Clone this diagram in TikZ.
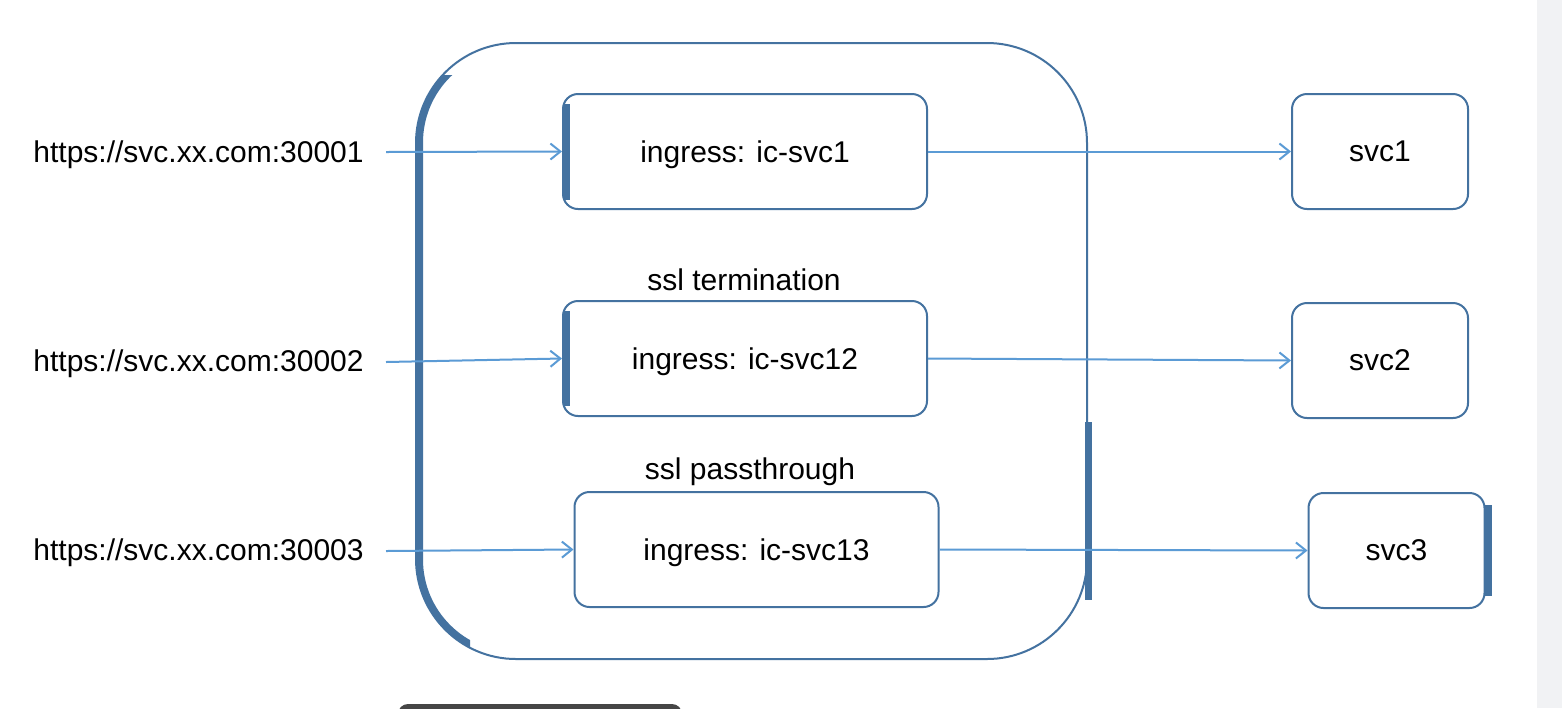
\documentclass[tikz,border=0pt]{standalone}
\usepackage{fontspec}
\setmainfont{Liberation Sans}
\usetikzlibrary{arrows.meta}
\definecolor{edge}{RGB}{68,114,160}
\definecolor{arrowc}{RGB}{91,155,213}
\definecolor{strip}{RGB}{241,242,244}
\definecolor{darkbar}{RGB}{70,70,70}
\tikzset{
  box/.style={draw=edge, line width=1pt, rounded corners=7.5pt, fill=white,
    inner sep=0pt, text depth=0pt, font=\fontsize{15}{18}\selectfont},
  ibox/.style={box, minimum width=182pt, minimum height=57.5pt},
  sbox/.style={box, minimum width=88pt, minimum height=57.5pt},
  lbl/.style={inner sep=0pt, font=\fontsize{15}{18}\selectfont},
  arr/.style={draw=arrowc, line width=1pt, -{Straight Barb[length=5pt,width=8pt,line width=1pt]}},
  thickedge/.style={draw=edge, line width=3.5pt},
}
\begin{document}
\begin{tikzpicture}[x=0.5pt,y=-0.5pt]
\useasboundingbox (0,0) rectangle (1562,708);
\fill[white] (0,0) rectangle (1562,708);
\fill[strip] (1537,0) rectangle (1562,708);
\begin{scope}
  \clip (0,0) rectangle (1562,708);
  \fill[darkbar, rounded corners=5pt] (398,704) rectangle (682,730);
\end{scope}
% container
\node[draw=edge, line width=1pt, rounded corners=50pt, minimum width=335.5pt, minimum height=308pt, inner sep=0pt] (ctr) at (751.5,351) {};
\begin{scope}
  \clip (400,75) rectangle (470,655);
  \draw[thickedge, rounded corners=48pt] (419.5,46.5) rectangle (1083.5,655.5);
\end{scope}
\draw[thickedge] (1088.5,422) -- (1088.5,600);
% URLs
\node[lbl, anchor=west] (u1) at (33,155) {https://svc.xx.com:30001};
\node[lbl, anchor=west] (u2) at (33,364) {https://svc.xx.com:30002};
\node[lbl, anchor=west] (u3) at (33,553) {https://svc.xx.com:30003};
\coordinate (s1) at (386,152);
\coordinate (s2) at (386,362);
\coordinate (s3) at (386,551);
% ingress boxes
\node[ibox] (b1) at (745,151.5) {ingress: ic-svc1};
\node[ibox] (b2) at (745,358.5) {ingress: ic-svc12};
\node[ibox] (b3) at (756.5,549.5) {ingress: ic-svc13};
\draw[thickedge] (566.5,104) -- (566.5,200);
\draw[thickedge] (566.5,311) -- (566.5,406);
\node[lbl] (t2) at (744,280) {ssl termination};
\node[lbl] (t3) at (750,472) {ssl passthrough};
% services
\node[sbox] (v1) at (1380,151.5) {svc1};
\node[sbox] (v2) at (1380,360.5) {svc2};
\node[sbox] (v3) at (1396.5,550.5) {svc3};
\draw[thickedge] (1488.5,505) -- (1488.5,596);
% arrows
\draw[arr] (s1) -- (b1.west);
\draw[arr] (s2) -- (b2.west);
\draw[arr] (s3) -- (b3.west);
\draw[arr] (b1.east) -- (v1.west);
\draw[arr] (b2.east) -- (v2.west);
\draw[arr] (b3.east) -- (v3.west);
\end{tikzpicture}
\end{document}
